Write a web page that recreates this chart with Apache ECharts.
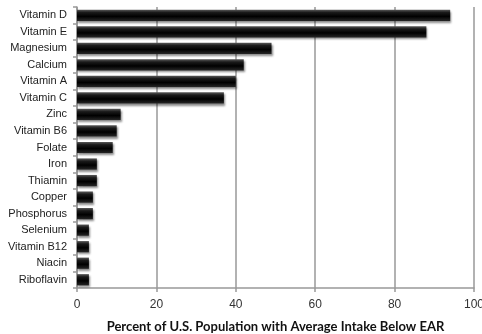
<!DOCTYPE html>
<html><head><meta charset="utf-8">
<script src="https://cdn.jsdelivr.net/npm/echarts@6/dist/echarts.min.js"></script>
<style>html,body{margin:0;padding:0;background:#fff}#c{width:482px;height:334px}</style>
</head><body><div id="c"></div>
<script>
var categories = ["Vitamin D","Vitamin E","Magnesium","Calcium","Vitamin A","Vitamin C","Zinc","Vitamin B6","Folate","Iron","Thiamin","Copper","Phosphorus","Selenium","Vitamin B12","Niacin","Riboflavin"];
var values = [94,88,49,42,40,37,11,10,9,5,5,4,4,3,3,3,3];
var xTicks = [0,20,40,60,80,100];
var axisTitle = "Percent of U.S. Population with Average Intake Below EAR";

var chart = echarts.init(document.getElementById('c'), null, {renderer:'canvas'});
chart.setOption({
  animation:false,
  grid:{left:77,right:8,top:7,bottom:46,containLabel:false,outerBoundsMode:'none'},
  xAxis:{
    type:'value',min:xTicks[0],max:xTicks[xTicks.length-1],interval:20,
    axisLine:{show:true,lineStyle:{color:'#999',width:1.5}},
    axisTick:{show:true,length:4,lineStyle:{color:'#999',width:1.5}},
    splitLine:{show:true,lineStyle:{color:'#999',width:1.5}},
    axisLabel:{color:'#333',fontSize:12,fontFamily:'Liberation Sans',margin:11},
    name:axisTitle,nameLocation:'middle',nameGap:32,
    nameTextStyle:{color:'#111',fontSize:13,fontWeight:'bold',fontFamily:'Lato'}
  },
  yAxis:{
    type:'category',data:categories,inverse:true,
    axisLine:{show:true,lineStyle:{color:'#999',width:1.5}},
    axisTick:{show:true,length:4,lineStyle:{color:'#999',width:1.5}},
    axisLabel:{color:'#222',fontSize:11,fontFamily:'Liberation Sans',margin:10}
  },
  series:[{
    type:'bar',data:values,barCategoryGap:'32%',
    itemStyle:{
      color:new echarts.graphic.LinearGradient(0,0,0,1,[
        {offset:0,color:'#5a5a5a'},{offset:0.25,color:'#1a1a1a'},
        {offset:0.6,color:'#000'},{offset:1,color:'#262626'}]),
      shadowColor:'rgba(0,0,0,0.45)',shadowBlur:2,shadowOffsetX:1,shadowOffsetY:2
    }
  }]
});
</script></body></html>
